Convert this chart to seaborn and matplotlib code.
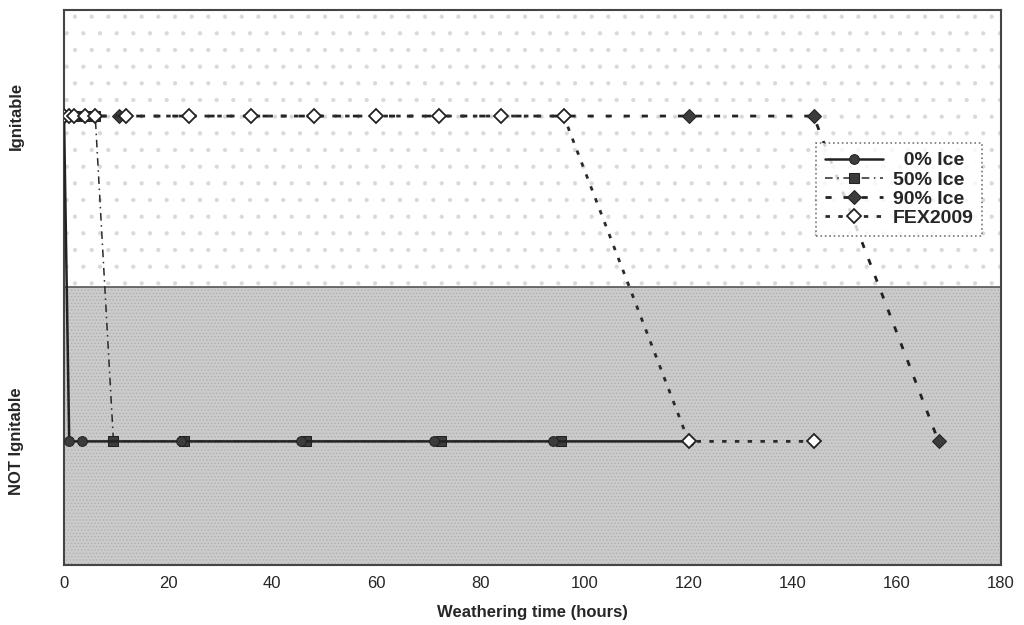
import matplotlib
matplotlib.use("Agg")
import matplotlib.pyplot as plt
import seaborn as sns

# weathering time (hours) and ignitability (1 = Ignitable, 0 = NOT Ignitable)
ice0_t = [0, 1, 3.5, 22.5, 45.5, 71, 94, 120]
ice0_y = [1, 0, 0, 0, 0, 0, 0, 0]

ice50_t = [0, 2, 4, 6, 9.5, 23, 46.5, 72.5, 95.5]
ice50_y = [1, 1, 1, 1, 0, 0, 0, 0, 0]

ice90_t = [0, 10.5, 120, 144, 168]
ice90_y = [1, 1, 1, 1, 0]

fex_t = [0, 1, 2, 4, 6, 12, 24, 36, 48, 60, 72, 84, 96, 120, 144]
fex_y = [1, 1, 1, 1, 1, 1, 1, 1, 1, 1, 1, 1, 1, 0, 0]

x_ticks = [0, 20, 40, 60, 80, 100, 120, 140, 160, 180]
y_labels = ["NOT Ignitable", "Ignitable"]

sns.set_style("white")
plt.rcParams["font.family"] = ["Liberation Sans", "DejaVu Sans"]
plt.rcParams["hatch.linewidth"] = 0.6

fig = plt.figure(figsize=(10.24, 6.25), dpi=100)
ax = fig.add_axes([64 / 1024, 1 - 565 / 625, (1001 - 64) / 1024, (565 - 10) / 625])

y_bot, y_top, y_split = -0.38, 1.326, 0.474

# background bands
ax.axhspan(y_split, y_top, facecolor="white", edgecolor="#d9d9d9", hatch=".", lw=0, zorder=0)
ax.axhspan(y_bot, y_split, facecolor="#cbcbcb", edgecolor="#b0b0b0", hatch=".....", lw=0, zorder=0)
ax.axhline(y_split, color="#555555", lw=1.2, zorder=1)

sns.lineplot(x=ice0_t, y=ice0_y, ax=ax, estimator=None, sort=False, color="#222222",
             lw=1.8, marker="o", markersize=7, markerfacecolor="#3c3c3c",
             markeredgecolor="#222222", label="  0% Ice", zorder=4)
sns.lineplot(x=ice50_t, y=ice50_y, ax=ax, estimator=None, sort=False, color="#2a2a2a",
             lw=1.1, linestyle=(0, (5, 3, 1, 3)), marker="s", markersize=6.5,
             markerfacecolor="#3c3c3c", markeredgecolor="#222222", label="50% Ice", zorder=3)
sns.lineplot(x=ice90_t, y=ice90_y, ax=ax, estimator=None, sort=False, color="#222222",
             lw=2.0, linestyle=(0, (2.2, 4.3)), marker="D", markersize=7,
             markerfacecolor="#3c3c3c", markeredgecolor="#222222", label="90% Ice", zorder=3)
sns.lineplot(x=fex_t, y=fex_y, ax=ax, estimator=None, sort=False, color="#2a2a2a",
             lw=2.0, linestyle=(0, (1.6, 3.0)), marker="D", markersize=7.5,
             markerfacecolor="white", markeredgecolor="#222222", markeredgewidth=1.3,
             label="FEX2009", zorder=5)

ax.set_xlim(0, 180)
ax.set_ylim(y_bot, y_top)
ax.set_xticks(x_ticks)
ax.set_xticklabels([str(t) for t in x_ticks], fontsize=12)
ax.set_yticks([0, 1])
ax.set_yticklabels(y_labels, rotation=90, va="center", fontsize=12, fontweight="bold")
ax.tick_params(axis="y", length=0, pad=29)
ax.tick_params(axis="x", length=0, pad=8)
ax.set_xlabel("Weathering time (hours)", fontsize=12, fontweight="bold", labelpad=10)
ax.set_ylabel("")

for s in ax.spines.values():
    s.set_color("#444444")
    s.set_linewidth(1.5)
    s.set_visible(True)

leg = ax.legend(loc="upper left", bbox_to_anchor=((816 - 64) / 937, 1 - (143 - 10) / 555),
                prop={"weight": "bold", "size": 14}, frameon=True, fancybox=False,
                borderpad=0.45, borderaxespad=0, labelspacing=0.08, handlelength=3.0,
                handletextpad=0.5)
leg.get_frame().set_edgecolor("#555555")
leg.get_frame().set_linestyle(":")
leg.get_frame().set_linewidth(1.2)

fig.savefig("out.png", dpi=100)
